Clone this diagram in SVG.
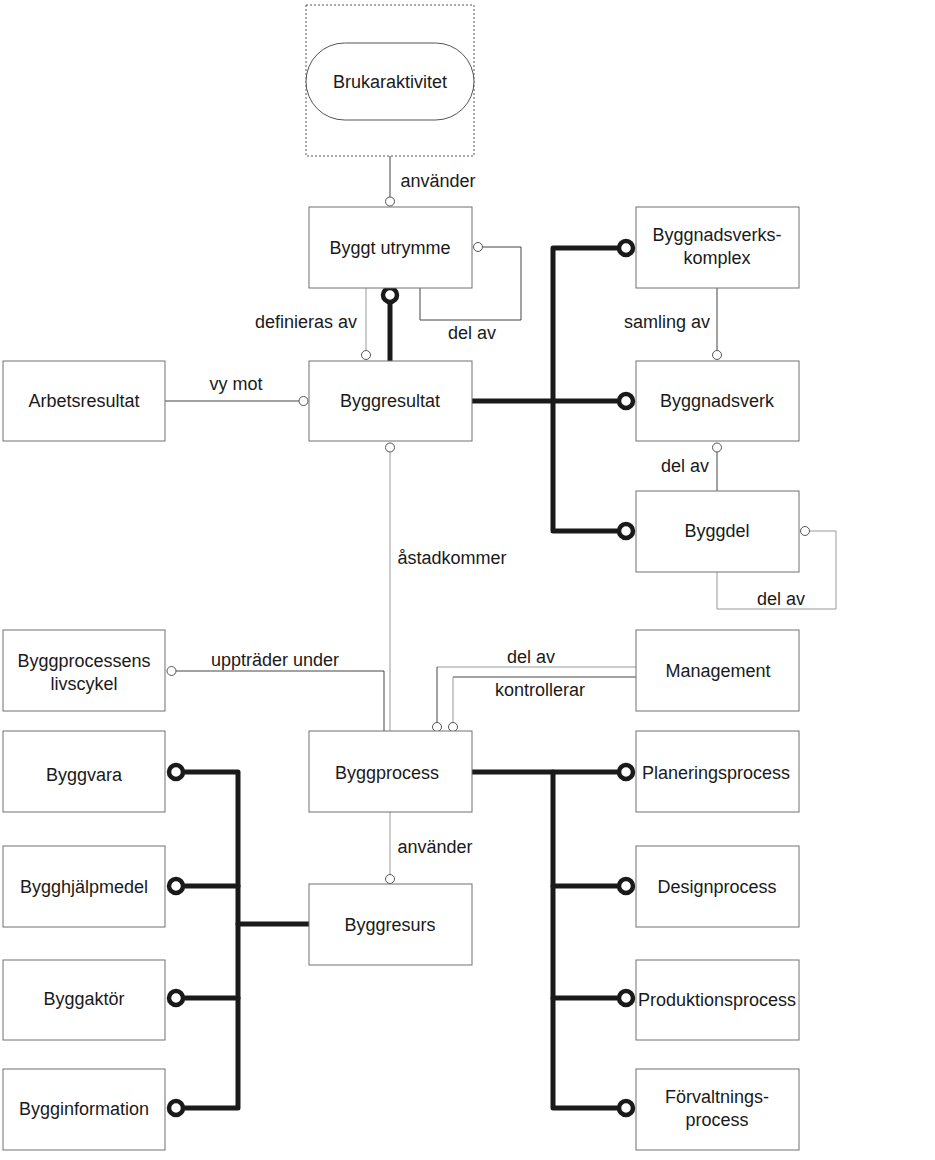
<svg xmlns="http://www.w3.org/2000/svg" width="935" height="1160" viewBox="0 0 935 1160">
<defs>
<style>
.box{fill:#fff;stroke:#707070;stroke-width:1}
.t{font-family:"Liberation Sans",Arial,sans-serif;font-size:18px;fill:#1a1a1a;text-anchor:middle}
.lbl{font-family:"Liberation Sans",Arial,sans-serif;font-size:18px;fill:#1a1a1a;text-anchor:middle}
.thin{fill:none;stroke:#444;stroke-width:1}
.gray{fill:none;stroke:#999;stroke-width:1}
.thick{fill:none;stroke:#1a1a1a;stroke-width:5;stroke-linecap:round;stroke-linejoin:round}
.sc{fill:#fff;stroke:#555;stroke-width:1}
.bc{fill:#fff;stroke:#1a1a1a;stroke-width:4.5}
</style>
</defs>
<rect width="935" height="1160" fill="#fff"/>

<g id="connectors">
<line class="thin" x1="390" y1="156" x2="390" y2="197"/>
<circle class="sc" cx="390" cy="201.5" r="4.5"/>
<polyline class="thin" points="483,247 521,247 521,320 420,320 420,288"/>
<circle class="sc" cx="478" cy="247" r="4.5"/>
<line class="gray" x1="366" y1="288" x2="366" y2="350"/>
<circle class="sc" cx="366" cy="355" r="4.5"/>
<line class="thick" x1="390" y1="302" x2="390" y2="360"/>
<circle class="bc" cx="390" cy="295" r="7"/>
<line class="thin" x1="165" y1="401" x2="299" y2="401"/>
<circle class="sc" cx="303.5" cy="401" r="4.5"/>
<polyline class="thick" points="472,401 553,401"/>
<polyline class="thick" points="619,248 553,248 553,531 619,531"/>
<line class="thick" x1="553" y1="401" x2="619" y2="401"/>
<circle class="bc" cx="626" cy="248" r="7"/>
<circle class="bc" cx="626" cy="401" r="7"/>
<circle class="bc" cx="626" cy="531" r="7"/>
<line class="thin" x1="717" y1="288" x2="717" y2="350"/>
<circle class="sc" cx="717" cy="355" r="4.5"/>
<line class="thin" x1="717" y1="452" x2="717" y2="491"/>
<circle class="sc" cx="717" cy="447.5" r="4.5"/>
<polyline class="gray" points="810,531 836,531 836,609 717,609 717,572"/>
<circle class="sc" cx="805" cy="531" r="4.5"/>
<line class="gray" x1="390" y1="452" x2="390" y2="731"/>
<circle class="sc" cx="390" cy="447.5" r="4.5"/>
<polyline class="thin" points="176,671 384,671 384,731"/>
<circle class="sc" cx="171.5" cy="671" r="4.5"/>
<polyline class="gray" points="636,667 437,667"/>
<line class="thin" x1="437" y1="667" x2="437" y2="723"/>
<circle class="sc" cx="437" cy="727" r="4.5"/>
<polyline class="thin" points="636,677 453,677"/>
<line class="gray" x1="453" y1="677" x2="453" y2="723"/>
<circle class="sc" cx="453" cy="727" r="4.5"/>
<line class="thick" x1="472" y1="772" x2="619" y2="772"/>
<polyline class="thick" points="553,772 553,1108 619,1108"/>
<line class="thick" x1="553" y1="886" x2="619" y2="886"/>
<line class="thick" x1="553" y1="998" x2="619" y2="998"/>
<circle class="bc" cx="626" cy="772" r="7"/>
<circle class="bc" cx="626" cy="886" r="7"/>
<circle class="bc" cx="626" cy="998" r="7"/>
<circle class="bc" cx="626" cy="1108" r="7"/>
<line class="gray" x1="390" y1="812" x2="390" y2="875"/>
<circle class="sc" cx="390" cy="879" r="4.5"/>
<polyline class="thick" points="183,772 238,772 238,1108 183,1108"/>
<line class="thick" x1="183" y1="886" x2="238" y2="886"/>
<line class="thick" x1="183" y1="998" x2="238" y2="998"/>
<line class="thick" x1="238" y1="924" x2="309" y2="924"/>
<circle class="bc" cx="176" cy="772" r="7"/>
<circle class="bc" cx="176" cy="886" r="7"/>
<circle class="bc" cx="176" cy="998" r="7"/>
<circle class="bc" cx="176" cy="1108" r="7"/>

<text class="lbl" x="438" y="187">använder</text>
<text class="lbl" x="472" y="339">del av</text>
<text class="lbl" x="306" y="328">definieras av</text>
<text class="lbl" x="236" y="390">vy mot</text>
<text class="lbl" x="667" y="328">samling av</text>
<text class="lbl" x="685" y="472">del av</text>
<text class="lbl" x="781" y="605">del av</text>
<text class="lbl" x="452" y="564">åstadkommer</text>
<text class="lbl" x="275" y="666">uppträder under</text>
<text class="lbl" x="531" y="663">del av</text>
<text class="lbl" x="540" y="696">kontrollerar</text>
<text class="lbl" x="435" y="853">använder</text>
</g>

<g id="brukaraktivitet">
<rect x="306" y="5" width="168" height="151" fill="none" stroke="#555" stroke-width="1" stroke-dasharray="2,2"/>
<rect x="306" y="43" width="168" height="77" rx="38.5" ry="38.5" fill="#fff" stroke="#555" stroke-width="1"/>
<text class="t" x="390" y="88">Brukaraktivitet</text>
</g>
<g id="byggt-utrymme"><rect class="box" x="309" y="207" width="163" height="81"/><text class="t" x="390" y="254">Byggt utrymme</text></g>
<g id="arbetsresultat"><rect class="box" x="3" y="361" width="162" height="80"/><text class="t" x="84" y="407">Arbetsresultat</text></g>
<g id="byggresultat"><rect class="box" x="309" y="361" width="163" height="80"/><text class="t" x="390" y="407">Byggresultat</text></g>
<g id="byggnadsverkskomplex"><rect class="box" x="636" y="207" width="163" height="81"/><text class="t" x="717" y="241">Byggnadsverks-</text><text class="t" x="717" y="264">komplex</text></g>
<g id="byggnadsverk"><rect class="box" x="636" y="361" width="163" height="80"/><text class="t" x="717" y="407">Byggnadsverk</text></g>
<g id="byggdel"><rect class="box" x="636" y="491" width="163" height="81"/><text class="t" x="717" y="537">Byggdel</text></g>
<g id="byggprocessens-livscykel"><rect class="box" x="3" y="630" width="162" height="81"/><text class="t" x="84" y="667">Byggprocessens</text><text class="t" x="84" y="690">livscykel</text></g>
<g id="management"><rect class="box" x="636" y="630" width="163" height="81"/><text class="t" x="718" y="677">Management</text></g>
<g id="byggprocess"><rect class="box" x="309" y="731" width="163" height="81"/><text class="t" x="387" y="779">Byggprocess</text></g>
<g id="planeringsprocess"><rect class="box" x="636" y="731" width="163" height="81"/><text class="t" x="716" y="779">Planeringsprocess</text></g>
<g id="designprocess"><rect class="box" x="636" y="846" width="163" height="81"/><text class="t" x="717" y="893">Designprocess</text></g>
<g id="produktionsprocess"><rect class="box" x="636" y="960" width="163" height="80"/><text class="t" x="717" y="1006">Produktionsprocess</text></g>
<g id="forvaltningsprocess"><rect class="box" x="636" y="1069" width="163" height="81"/><text class="t" x="717" y="1103">Förvaltnings-</text><text class="t" x="717" y="1126">process</text></g>
<g id="byggresurs"><rect class="box" x="309" y="884" width="163" height="81"/><text class="t" x="390" y="931">Byggresurs</text></g>
<g id="byggvara"><rect class="box" x="3" y="731" width="162" height="81"/><text class="t" x="84" y="781">Byggvara</text></g>
<g id="bygghjalpmedel"><rect class="box" x="3" y="846" width="162" height="81"/><text class="t" x="84" y="893">Bygghjälpmedel</text></g>
<g id="byggaktor"><rect class="box" x="3" y="960" width="162" height="80"/><text class="t" x="84" y="1005">Byggaktör</text></g>
<g id="bygginformation"><rect class="box" x="3" y="1069" width="162" height="81"/><text class="t" x="84" y="1115">Bygginformation</text></g>
</svg>
